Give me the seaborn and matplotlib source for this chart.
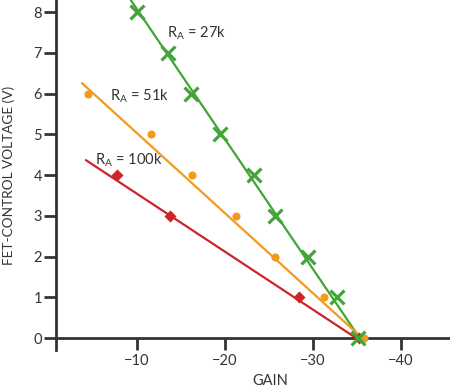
import matplotlib
matplotlib.use("Agg")
import matplotlib.pyplot as plt
import seaborn as sns
import pandas as pd

# ---- data ----
green_gain = [-10.0, -13.5, -16.1, -19.4, -23.3, -25.7, -29.4, -32.8, -35.1]
green_volt = [8, 7, 6, 5, 4, 3, 2, 1, 0]
orange_gain = [-4.4, -11.6, -16.3, -21.25, -25.7, -31.25, -35.8]
orange_volt = [6, 5, 4, 3, 2, 1, 0]
red_gain = [-7.7, -13.8, -28.4, -35.2]
red_volt = [4, 3, 1, 0]

green_line_gain = [-9.3, -35.5]
green_line_volt = [8.3, -0.05]
orange_line_gain = [-3.75, -35.8]
orange_line_volt = [6.26, -0.03]
red_line_gain = [-4.2, -35.3]
red_line_volt = [4.37, -0.05]

labels = ["R$_{A}$ = 27k", "R$_{A}$ = 51k", "R$_{A}$ = 100k"]
label_gain = [-13.4, -6.93, -5.23]
label_volt = [7.38, 5.84, 4.25]

xticks = [-10, -20, -30, -40]
yticks = [0, 1, 2, 3, 4, 5, 6, 7, 8]

GREEN = "#41a537"
ORANGE = "#f39a1c"
RED = "#cc2429"
INK = "#333333"

sns.set_theme(style="white")
plt.rcParams["font.family"] = ["Lato", "DejaVu Sans"]
plt.rcParams["mathtext.default"] = "regular"
plt.rcParams["axes.unicode_minus"] = True

fig = plt.figure(figsize=(4.5, 3.87), dpi=100)
ax = fig.add_axes([56 / 450, 37 / 387, 1 - 56 / 450, 350 / 387])

for lg, lv, c in [(green_line_gain, green_line_volt, GREEN),
                  (orange_line_gain, orange_line_volt, ORANGE),
                  (red_line_gain, red_line_volt, RED)]:
    sns.lineplot(x=lg, y=lv, color=c, linewidth=1.6, ax=ax, sort=False)

sns.scatterplot(x=red_gain, y=red_volt, marker="D", s=38, color=RED,
                edgecolor=RED, linewidth=0, ax=ax, zorder=3)
sns.scatterplot(x=orange_gain, y=orange_volt, marker="o", s=34, color=ORANGE,
                edgecolor=ORANGE, linewidth=0, ax=ax, zorder=3)
sns.scatterplot(x=green_gain, y=green_volt, marker="x", s=100, color=GREEN,
                linewidth=2.3, ax=ax, zorder=3)

for t, g, v in zip(labels, label_gain, label_volt):
    ax.text(g, v, t, ha="left", va="baseline", fontsize=10.5, color=INK)

ax.set_xlim(-0.8, -45.6)
ax.set_ylim(-0.29, 8.3)
ax.set_xticks(xticks)
ax.set_yticks(yticks)
ax.set_xticklabels(["\u2212" + str(abs(v)) for v in xticks])
ax.set_yticklabels([str(v) for v in yticks])

for s in ["top", "right"]:
    ax.spines[s].set_visible(False)
ax.spines["bottom"].set_position(("data", 0))
for s in ["left", "bottom"]:
    ax.spines[s].set_color(INK)
    ax.spines[s].set_linewidth(2.0)

ax.tick_params(axis="both", which="major", direction="out", length=8.5,
               width=2.0, color=INK, labelcolor=INK, labelsize=10.5)
ax.tick_params(axis="x", pad=3)
ax.tick_params(axis="y", pad=1.5)
ax.tick_params(axis="both", left=True, bottom=True)

ax.set_xlabel("GAIN", fontsize=10.5, color=INK, va="center", ha="center")
ax.set_ylabel("FET-CONTROL VOLTAGE (V)", fontsize=9.8, color=INK,
              va="center", ha="center")
ax.xaxis.set_label_coords(0.545, -0.089)
ax.yaxis.set_label_coords(-0.121, 0.5)
ax.patch.set_alpha(0)

fig.savefig("out.png", dpi=100)
